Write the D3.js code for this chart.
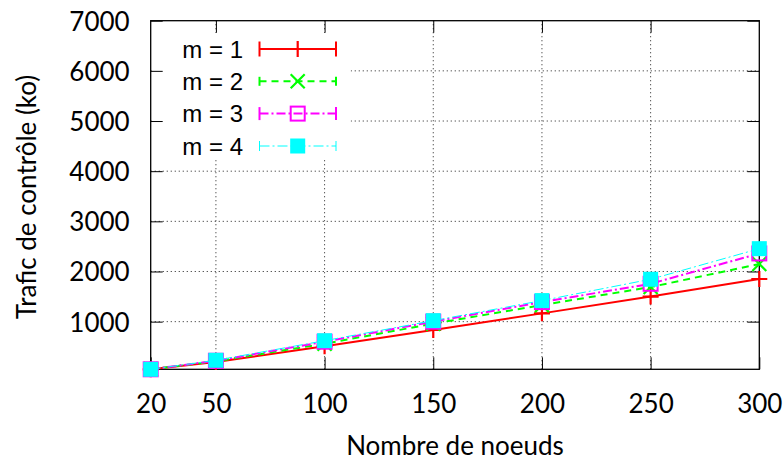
<!DOCTYPE html>
<html>
<head>
<meta charset="utf-8">
<script src="https://cdn.jsdelivr.net/npm/d3@7"></script>
<style>
  html, body { margin: 0; padding: 0; background: #fff; }
  svg { display: block; }
</style>
</head>
<body>
<svg id="chart" width="784" height="463"></svg>
<script>
// ---- Data ----
const nodes = [20, 50, 100, 150, 200, 250, 300];
const m1 = [50, 195, 510, 835, 1165, 1500, 1850];
const m2 = [50, 210, 560, 960, 1330, 1690, 2150];
const m3 = [50, 220, 600, 1000, 1390, 1755, 2360];
const m4 = [50, 230, 620, 1020, 1420, 1845, 2455];
const seriesNames = ["m = 1", "m = 2", "m = 3", "m = 4"];
const xTicks = [20, 50, 100, 150, 200, 250, 300];
const yTicks = [1000, 2000, 3000, 4000, 5000, 6000, 7000];
const xTitle = "Nombre de noeuds";
const yTitle = "Trafic de contrôle (ko)";

// ---- Layout ----
const L = 150.7, R = 759.3, T = 20.7, B = 369.3;
const x = d3.scaleLinear().domain([20, 300]).range([L, R]);
const y = d3.scaleLinear().domain([50, 7000]).range([B, T]);

const svg = d3.select("#chart");
const tickFont = "Lato, 'DejaVu Sans', sans-serif";
const legFont = "'Liberation Sans', Arial, sans-serif";
const fs = 26;

// grid
const grid = svg.append("g").attr("stroke", "#444").attr("stroke-width", 1)
  .attr("stroke-dasharray", "1.2,2.8").attr("fill", "none");
xTicks.filter(v => v > 20 && v < 300).forEach(v => {
  grid.append("line").attr("x1", x(v)).attr("x2", x(v)).attr("y1", B).attr("y2", T);
});
yTicks.filter(v => v < 7000).forEach(v => {
  grid.append("line").attr("x1", L).attr("x2", R).attr("y1", y(v)).attr("y2", y(v));
});

// legend background box
svg.append("rect").attr("x", L + 1).attr("y", 33).attr("width", 199).attr("height", 127)
  .attr("fill", "#fff");

// axes via d3 axes (ticks inward)
const tickLen = 12;
const xAxisB = d3.axisBottom(x).tickValues(xTicks).tickFormat(d3.format("d"))
  .tickSizeInner(-tickLen).tickSizeOuter(0).tickPadding(tickLen + 19);
const gxB = svg.append("g").attr("transform", `translate(0,${B})`).call(xAxisB);
gxB.select(".domain").remove();
gxB.selectAll("text").attr("font-family", tickFont).attr("font-size", fs).attr("fill", "#000")
  .attr("dy", "0.5em");
gxB.selectAll("line").attr("stroke", "#000");

const xAxisT = d3.axisTop(x).tickValues(xTicks.filter(v => v > 20 && v < 300)).tickSizeInner(-tickLen).tickSizeOuter(0).tickFormat("");
const gxT = svg.append("g").attr("transform", `translate(0,${T})`).call(xAxisT);
gxT.select(".domain").remove();
gxT.selectAll("line").attr("stroke", "#000");

const yAxisL = d3.axisLeft(y).tickValues(yTicks).tickFormat(d3.format("d"))
  .tickSizeInner(-tickLen).tickSizeOuter(0).tickPadding(tickLen + 9);
const gyL = svg.append("g").attr("transform", `translate(${L},0)`).call(yAxisL);
gyL.select(".domain").remove();
gyL.selectAll("text").attr("font-family", tickFont).attr("font-size", fs).attr("fill", "#000")
  .attr("dy", "0.36em");
gyL.selectAll("line").attr("stroke", "#000");

const yAxisR = d3.axisRight(y).tickValues(yTicks).tickSizeInner(-tickLen).tickSizeOuter(0).tickFormat("");
const gyR = svg.append("g").attr("transform", `translate(${R},0)`).call(yAxisR);
gyR.select(".domain").remove();
gyR.selectAll("line").attr("stroke", "#000");

// frame
svg.append("rect").attr("x", L).attr("y", T).attr("width", R - L).attr("height", B - T)
  .attr("fill", "none").attr("stroke", "#000").attr("stroke-width", 1.3);

// titles
svg.append("text").attr("x", (L + R) / 2).attr("y", 455).attr("text-anchor", "middle")
  .attr("font-family", tickFont).attr("font-size", fs).attr("fill", "#000").text(xTitle);
svg.append("text").attr("transform", "translate(36,197) rotate(-90)").attr("text-anchor", "middle")
  .attr("font-family", tickFont).attr("font-size", fs).attr("fill", "#000").text(yTitle);

// series
const series = [
  { name: seriesNames[0], vals: m1, color: "#ff0000", width: 2, dash: null, marker: "plus" },
  { name: seriesNames[1], vals: m2, color: "#00ff00", width: 2, dash: "7,5", marker: "cross" },
  { name: seriesNames[2], vals: m3, color: "#ff00ff", width: 2, dash: "9,3,2,3", marker: "osq" },
  { name: seriesNames[3], vals: m4, color: "#00ffff", width: 1, dash: "10,3,2,3", marker: "fsq" }
];

function drawMarker(g, type, cx, cy, color) {
  if (type === "plus") {
    g.append("path").attr("d", `M${cx - 8},${cy}H${cx + 8}M${cx},${cy - 8}V${cy + 8}`)
      .attr("stroke", color).attr("stroke-width", 2.2).attr("fill", "none");
  } else if (type === "cross") {
    g.append("path").attr("d", `M${cx - 7},${cy - 7}L${cx + 7},${cy + 7}M${cx - 7},${cy + 7}L${cx + 7},${cy - 7}`)
      .attr("stroke", color).attr("stroke-width", 2.2).attr("fill", "none");
  } else if (type === "osq") {
    g.append("rect").attr("x", cx - 7).attr("y", cy - 7).attr("width", 14).attr("height", 14)
      .attr("stroke", color).attr("stroke-width", 2).attr("fill", "none");
  } else if (type === "fsq") {
    g.append("rect").attr("x", cx - 7.5).attr("y", cy - 7.5).attr("width", 15).attr("height", 15)
      .attr("fill", color);
  }
}

const line = d3.line().x(d => x(d[0])).y(d => y(d[1]));
series.forEach(s => {
  const g = svg.append("g");
  const pts = nodes.map((n, i) => [n, s.vals[i]]);
  g.append("path").attr("d", line(pts)).attr("fill", "none").attr("stroke", s.color)
    .attr("stroke-width", s.width).attr("stroke-dasharray", s.dash);
  pts.forEach(p => drawMarker(g, s.marker, x(p[0]), y(p[1]), s.color));
});

// legend
const legRows = [49, 81.3, 113.6, 146];
const sx1 = 259.5, sx2 = 336, smid = 297.7;
const barH = [15, 9, 13, 10];
series.forEach((s, i) => {
  const g = svg.append("g");
  const cy = legRows[i];
  g.append("text").attr("x", 243).attr("y", cy + 8.5).attr("text-anchor", "end")
    .attr("font-family", legFont).attr("font-size", 24).attr("fill", "#000").text(s.name);
  g.append("line").attr("x1", sx1).attr("x2", sx2).attr("y1", cy).attr("y2", cy)
    .attr("stroke", s.color).attr("stroke-width", s.width).attr("stroke-dasharray", s.dash);
  [sx1, sx2].forEach(bx => {
    g.append("line").attr("x1", bx).attr("x2", bx).attr("y1", cy - barH[i] / 2).attr("y2", cy + barH[i] / 2)
      .attr("stroke", s.color).attr("stroke-width", s.width);
  });
  drawMarker(g, s.marker, smid, cy, s.color);
});
</script>
</body>
</html>
